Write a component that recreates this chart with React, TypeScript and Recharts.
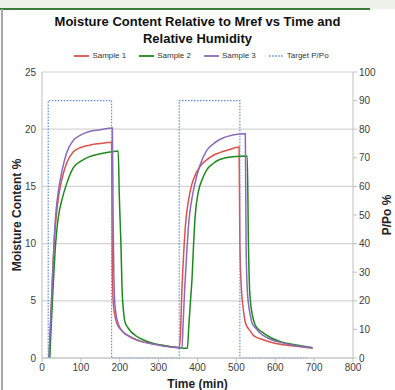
import React from 'react';
import { LineChart, Line, XAxis, YAxis, CartesianGrid, Label } from 'recharts';

// time (min), moisture content %
const sample1 = [
  [18, 0], [22, 3], [27, 7], [32, 10.5], [37, 12.5], [43, 14.2], [51, 15.6], [63, 17.0], [80, 18.0],
  [100, 18.4], [122, 18.6], [150, 18.75], [179, 18.85], [181, 8], [183, 5], [187, 3.8], [193, 3.0],
  [205, 2.4], [226, 1.85], [250, 1.5], [282, 1.25], [320, 1.05], [353, 0.9], [356, 2], [360, 6],
  [365, 9.5], [370, 12], [377, 13.8], [384, 15.0], [397, 16.2], [410, 16.9], [423, 17.3], [440, 17.7],
  [457, 17.95], [480, 18.2], [507, 18.45], [509, 10], [513, 6], [517, 4.5], [524, 3.0], [535, 2.4],
  [543, 2.0], [560, 1.7], [586, 1.4], [620, 1.15], [660, 1.0], [696, 0.85],
];
const sample2 = [
  [20, 0], [24, 3], [29, 6.5], [34, 9.5], [40, 11.8], [45, 12.9], [51, 13.8], [63, 15.2], [80, 16.6],
  [100, 17.2], [122, 17.6], [150, 17.85], [175, 18.0], [196, 18.1], [199, 14], [203, 10], [206, 6],
  [210, 4], [213, 3.2], [222, 2.6], [243, 1.9], [260, 1.6], [285, 1.3], [320, 1.05], [350, 0.92],
  [374, 0.85], [378, 3], [382, 5], [386, 7], [390, 10], [394, 12.4], [402, 14.5], [412, 15.6],
  [423, 16.4], [440, 17.0], [457, 17.35], [491, 17.6], [528, 17.65], [531, 10], [534, 6], [536, 5],
  [541, 3.8], [547, 3.0], [557, 2.5], [569, 2.2], [590, 1.75], [612, 1.45], [650, 1.15], [696, 0.9],
];
const sample3 = [
  [18, 0], [22, 3], [27, 7], [32, 10.8], [36, 12.8], [43, 14.8], [51, 16.3], [63, 17.9], [80, 19.0],
  [100, 19.5], [122, 19.8], [150, 19.95], [181, 20.1], [183, 12], [185, 7], [188, 4.5], [196, 3.0],
  [208, 2.3], [228, 1.85], [255, 1.45], [282, 1.25], [320, 1.0], [355, 0.88], [360, 0.85], [363, 3],
  [367, 6], [372, 9], [378, 12], [385, 13.8], [393, 15.2], [406, 16.8], [423, 18.1], [440, 18.7],
  [457, 19.1], [491, 19.5], [523, 19.6], [525, 10], [528, 6], [531, 4.8], [536, 3.7], [541, 3.0],
  [550, 2.6], [560, 2.2], [580, 1.75], [603, 1.45], [640, 1.15], [696, 0.9],
];
// time (min), target P/Po %
const target = [
  [16, 0], [16, 90], [179, 90], [179, 0], [353, 0], [353, 90], [509, 90], [509, 0], [685, 0],
];

const xTicks = [0, 100, 200, 300, 400, 500, 600, 700, 800];
const leftTicks = [0, 5, 10, 15, 20, 25];
const rightTicks = [0, 10, 20, 30, 40, 50, 60, 70, 80, 90, 100];

const series = [
  { name: 'Sample 1', color: '#d9534f', pts: sample1, axis: 'left' },
  { name: 'Sample 2', color: '#1e8a1e', pts: sample2, axis: 'left' },
  { name: 'Sample 3', color: '#8b6bb8', pts: sample3, axis: 'left' },
  { name: 'Target P/Po', color: '#5b8ed6', pts: target, axis: 'right' },
];

const toRows = (pts: number[][]) => pts.map(([t, v]) => ({ t, v }));

const FONT = 'Arial, "Liberation Sans", sans-serif';
const tickStyle = { fontSize: 10, fill: '#404040', fontFamily: FONT };
const axisTitle = { fontFamily: FONT, fontSize: 12, fontWeight: 'bold', fill: '#222' };

export default function App() {
  return (
    <div style={{ position: 'absolute', left: 0, top: 0, width: 395, height: 390, background: '#fff', overflow: 'hidden' }}>
      {/* page decoration from the source screenshot */}
      <div style={{ position: 'absolute', left: 0, top: 0, width: 395, height: 9, background: '#edf3ea' }} />
      <div style={{ position: 'absolute', left: 0, top: 8, width: 370, height: 2, background: '#3d7b3d' }} />
      <div style={{ position: 'absolute', left: 1, top: 9, width: 2, height: 381, background: '#a6a6a6' }} />

      <div style={{ position: 'absolute', left: 0, top: 13, width: 395, textAlign: 'center', fontFamily: FONT, fontWeight: 'bold', fontSize: 13, lineHeight: '17px', color: '#111' }}>
        Moisture Content Relative to Mref vs Time and<br />Relative Humidity
      </div>

      <div style={{ position: 'absolute', left: 4, top: 51, width: 395, display: 'flex', justifyContent: 'center', gap: 13, fontFamily: FONT, fontSize: 8, color: '#333' }}>
        {series.map((s) => (
          <span key={s.name} style={{ display: 'flex', alignItems: 'center' }}>
            <svg width={15} height={4} style={{ marginRight: 3 }}>
              <line x1={0} y1={2} x2={15} y2={2} stroke={s.color} strokeWidth={s.axis === 'right' ? 1.3 : 1.8}
                strokeDasharray={s.axis === 'right' ? '1.5 1.5' : undefined} />
            </svg>
            {s.name}
          </span>
        ))}
      </div>

      <LineChart width={395} height={390} margin={{ top: 72, right: 0, bottom: 0, left: 0 }} style={{ position: 'absolute', left: 0, top: 0 }}>
        <CartesianGrid horizontal vertical={false} stroke="#d4d4d4" strokeWidth={1.2} yAxisId="left" />
        <XAxis type="number" dataKey="t" domain={[0, 800]} ticks={xTicks} tick={tickStyle} height={32}
          stroke="#bfbfbf" tickSize={4} tickLine={{ stroke: '#bfbfbf' }} interval={0}>
          <Label value="Time (min)" position="insideBottom" offset={2} style={axisTitle} />
        </XAxis>
        <YAxis yAxisId="left" domain={[0, 25]} ticks={leftTicks} width={42} tick={tickStyle}
          stroke="#bfbfbf" tickSize={4} tickLine={false} interval={0}>
          <Label value="Moisture Content %" angle={-90} position="insideLeft" offset={17}
            style={{ ...axisTitle, textAnchor: 'middle' }} />
        </YAxis>
        <YAxis yAxisId="right" orientation="right" domain={[0, 100]} ticks={rightTicks} width={42} tick={tickStyle}
          stroke="#bfbfbf" tickSize={4} tickLine={{ stroke: '#bfbfbf' }} interval={0}>
          <Label value="P/Po %" angle={-90} position="insideRight" offset={8}
            style={{ ...axisTitle, textAnchor: 'middle' }} />
        </YAxis>
        {series.map((s) => (
          <Line key={s.name} yAxisId={s.axis} data={toRows(s.pts)} dataKey="v" name={s.name}
            type={s.axis === 'right' ? 'linear' : 'monotone'} stroke={s.color}
            strokeWidth={s.axis === 'right' ? 1.2 : 1.5} strokeDasharray={s.axis === 'right' ? '1.5 1.5' : undefined}
            dot={false} isAnimationActive={false} />
        ))}
      </LineChart>
    </div>
  );
}
